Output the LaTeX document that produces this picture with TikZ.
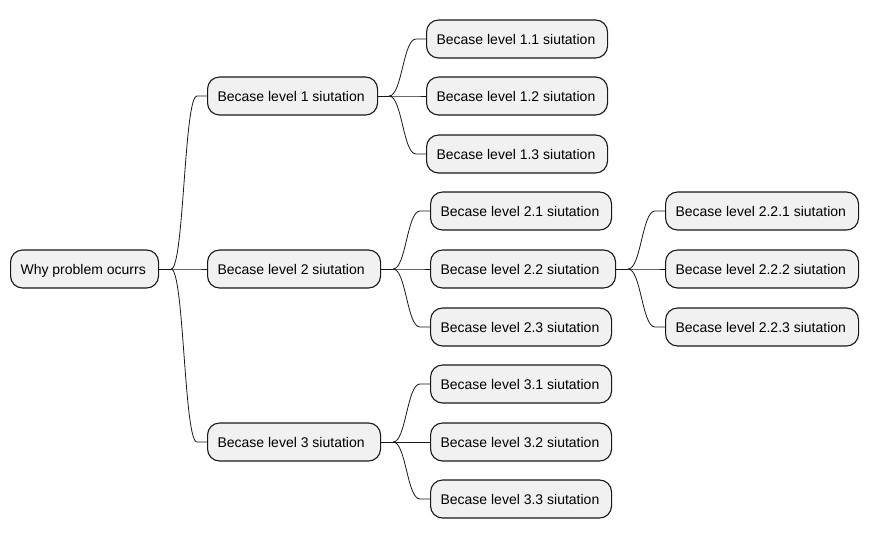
\documentclass[tikz,border=0pt]{standalone}
\usepackage{fontspec}
\setmainfont{Liberation Sans}
\definecolor{boxfill}{HTML}{F1F1F1}
\definecolor{boxline}{HTML}{181818}
\begin{document}
\begin{tikzpicture}[x=1pt,y=-1pt,
  box/.style={draw=boxline, line width=1.1pt, fill=boxfill, rounded corners=12pt,
    minimum height=38pt, inner xsep=10pt, inner ysep=0pt, anchor=west,
    text height=11pt, text depth=1pt,
    font=\fontsize{14pt}{17pt}\selectfont},
  link/.style={draw=boxline, line width=0.8pt}]
\useasboundingbox (0,0) rectangle (869,539);
% nodes
\node[box] (root) at (10,269) {\makebox[128pt][l]{Why problem ocurrs}};
\node[box] (l1) at (207,96) {\makebox[150pt][l]{Becase level 1 siutation}};
\node[box] (l2) at (207,269) {\makebox[153pt][l]{Becase level 2 siutation}};
\node[box] (l3) at (207,442) {\makebox[153pt][l]{Becase level 3 siutation}};
\node[box] (l11) at (426,39) {\makebox[161pt][l]{Becase level 1.1 siutation}};
\node[box] (l12) at (426,96) {\makebox[161pt][l]{Becase level 1.2 siutation}};
\node[box] (l13) at (426,154) {\makebox[161pt][l]{Becase level 1.3 siutation}};
\node[box] (l21) at (430,211) {\makebox[161pt][l]{Becase level 2.1 siutation}};
\node[box] (l22) at (430,269) {\makebox[165pt][l]{Becase level 2.2 siutation}};
\node[box] (l23) at (430,327) {\makebox[161pt][l]{Becase level 2.3 siutation}};
\node[box] (l221) at (665,211) {\makebox[173pt][l]{Becase level 2.2.1 siutation}};
\node[box] (l222) at (665,269) {\makebox[173pt][l]{Becase level 2.2.2 siutation}};
\node[box] (l223) at (665,327) {\makebox[173pt][l]{Becase level 2.2.3 siutation}};
\node[box] (l31) at (430,384) {\makebox[161pt][l]{Becase level 3.1 siutation}};
\node[box] (l32) at (430,442) {\makebox[161pt][l]{Becase level 3.2 siutation}};
\node[box] (l33) at (430,499) {\makebox[161pt][l]{Becase level 3.3 siutation}};
% junctions
\draw[link] (root.east) -- ++(12,0) coordinate (j0);
\draw[link] (l1.east) -- ++(11,0) coordinate (j1);
\draw[link] (l2.east) -- ++(12,0) coordinate (j2);
\draw[link] (l3.east) -- ++(12,0) coordinate (j3);
\draw[link] (l22.east) -- ++(12,0) coordinate (j22);
% connectors
\foreach \j/\c in {j0/l1,j0/l2,j0/l3,j1/l11,j1/l12,j1/l13,j2/l21,j2/l22,j2/l23,j3/l31,j3/l32,j3/l33,j22/l221,j22/l222,j22/l223}{
  \draw[link] (\j) .. controls +(13,0) and +(-13,0) .. ([xshift=-10pt]\c.west) -- (\c.west);
}
\end{tikzpicture}
\end{document}
